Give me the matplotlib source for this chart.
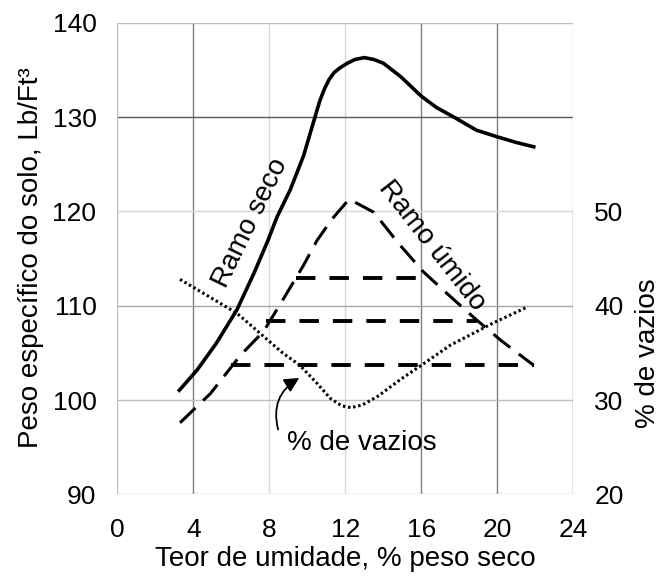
import matplotlib
matplotlib.use("Agg")
import matplotlib.pyplot as plt

plt.rcParams['font.family'] = ['Liberation Sans', 'DejaVu Sans']

# curva de compactação (peso específico seco)
x_solo = [3.2, 4.2, 5.2, 6.3, 7.2, 7.9, 8.4, 9.1, 9.8, 10.4, 10.65, 10.9, 11.15, 11.4, 11.7, 12.1, 12.5, 13.0,
          13.5, 14.0, 14.9, 16.0, 16.8, 17.7, 18.9, 20.0, 21.0, 22.0]
y_solo = [100.9, 103.2, 106.0, 109.6, 113.5, 116.8, 119.4, 122.3, 125.9, 130.0, 131.7, 133.0, 134.0, 134.7, 135.2, 135.7, 136.1, 136.3,
          136.1, 135.7, 134.3, 132.2, 131.0, 130.0, 128.6, 127.9, 127.3, 126.8]

# curva tracejada (ramo seco / ramo úmido)
x_ramo = [3.3, 4.9, 6.5, 7.7, 8.7, 9.8, 10.5, 11.3, 12.2, 13.5, 14.8, 16.1, 17.4, 18.9, 20.2, 21.9]
y_ramo = [97.6, 100.7, 104.8, 107.3, 110.6, 114.3, 116.9, 119.2, 121.3, 119.9, 116.6, 113.6, 111.2, 108.5, 106.3, 103.7]

# linhas horizontais tracejadas
h_nivel = [103.7, 108.4, 112.9]
h_ini = [6.0, 7.8, 9.4]
h_fim = [21.9, 18.9, 16.4]

# % de vazios (eixo direito)
x_vaz = [3.3, 6.3, 8.7, 9.6, 10.5, 11.2, 11.8, 12.3, 12.9, 13.7, 14.9, 16.0, 17.5, 19.8, 21.6]
v_vaz = [42.8, 39.2, 35.0, 33.7, 31.8, 30.2, 29.4, 29.2, 29.5, 30.4, 32.2, 33.7, 35.8, 38.2, 39.9]

fig = plt.figure(figsize=(6.62, 5.76), dpi=100)
ax = fig.add_axes([0.1772, 0.1415, 0.6891, 0.8191])
ax2 = ax.twinx()

ax.set_xlim(0, 24)
ax.set_ylim(90, 140)
ax2.set_ylim(20, 70)

# grade
dark = '#7f7f7f'
light = '#d9d9d9'
for xv, c in zip([4, 8, 12, 16, 20], [dark, light, light, dark, dark]):
    ax.axvline(xv, color=c, lw=1.0, zorder=0)
for yv, c in zip([100, 110, 120, 130], ['#bfbfbf', '#a6a6a6', light, '#595959']):
    ax.axhline(yv, color=c, lw=1.0, zorder=0)

for a in (ax, ax2):
    for s in a.spines.values():
        s.set_visible(False)
ax.plot([0, 0], [90, 140], color='#bfbfbf', lw=1.0, zorder=0)
ax.plot([0, 24], [140, 140], color='#bfbfbf', lw=1.0, zorder=0)
ax.plot([0, 24], [90, 90], color='#bfbfbf', lw=1.0, zorder=0)
ax.plot([24, 24], [120, 140], color=light, lw=1.0, zorder=0)
ax.plot([24, 24], [90, 120], color=dark, lw=1.0, zorder=0)

# curvas
ax.plot(x_solo, y_solo, color='black', lw=2.6, solid_joinstyle='round', solid_capstyle='butt')
ax.plot(x_ramo, y_ramo, color='black', lw=2.2, dashes=(7, 3.5))
for yv, x0, x1 in zip(h_nivel, h_ini, h_fim):
    ax.plot([x0, x1], [yv, yv], color='black', lw=2.8, dashes=(5, 3.6))
ax2.plot(x_vaz, v_vaz, color='black', lw=2.2, dashes=(0.8, 0.9))

ax.set_xticks(range(0, 25, 4))
ax.set_yticks(range(90, 141, 10))
ax2.set_yticks([20, 30, 40, 50])
ax.tick_params(axis='both', length=0, labelsize=19)
ax.tick_params(axis='y', pad=15)
ax.tick_params(axis='x', pad=17)
ax2.tick_params(axis='y', length=0, labelsize=19, pad=15)

ax.set_xlabel('Teor de umidade, % peso seco', fontsize=20, labelpad=3)
fig.text(38 / 662, 1 - 258 / 576, 'Peso específico do solo, Lb/Ft³', fontsize=20,
         rotation=90, rotation_mode='anchor', ha='center', va='baseline')
fig.text(655 / 662, 1 - 353 / 576, '% de vazios', fontsize=20,
         rotation=90, rotation_mode='anchor', ha='center', va='baseline')

ax.text(7.0, 118.8, 'Ramo seco', rotation=64, fontsize=20, ha='center', va='center')
ax.text(16.55, 116.4, 'Ramo úmido', rotation=-52, fontsize=20, ha='center', va='center')
ax.text(8.92, 94.75, '% de vazios', fontsize=20, ha='left', va='baseline')
ax.annotate('', xy=(9.7, 102.5), xytext=(8.5, 96.6),
            arrowprops=dict(arrowstyle='-|>', color='black', lw=1.3,
                            mutation_scale=22, connectionstyle='arc3,rad=-0.4'))

fig.savefig('out.png', dpi=100)
